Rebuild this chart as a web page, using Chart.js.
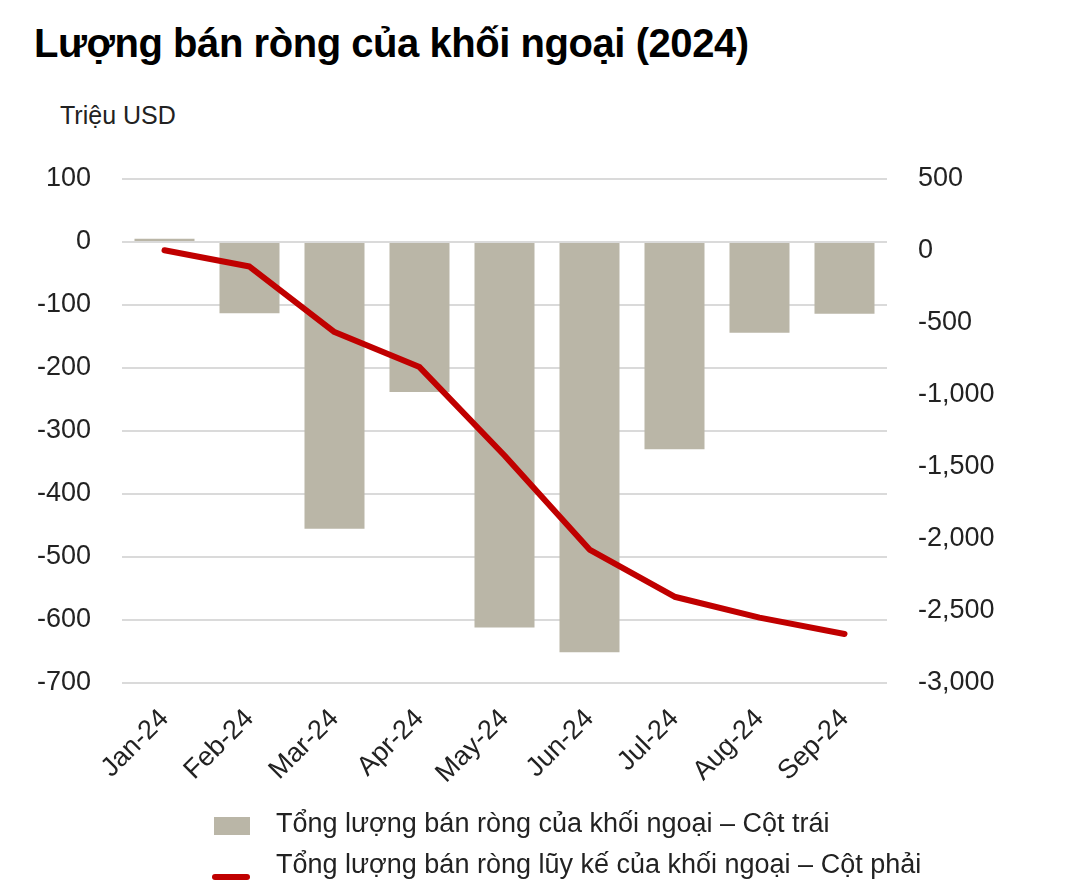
<!DOCTYPE html>
<html>
<head>
<meta charset="utf-8">
<script src="https://cdn.jsdelivr.net/npm/chart.js@4/dist/chart.umd.min.js"></script>
<style>
  html, body { margin: 0; padding: 0; background: #fff; }
  body { width: 1073px; height: 890px; position: relative; overflow: hidden; font-family: "Liberation Sans", Arial, sans-serif; color: #222; }
  #title { position: absolute; left: 34px; top: 21px; font-size: 40px; font-weight: bold; color: #000; white-space: nowrap; letter-spacing: -0.45px; }
  #unit { position: absolute; left: 60px; top: 101px; font-size: 25px; color: #222; white-space: nowrap; }
  canvas { position: absolute; left: 0; top: 0; }
  .leg { position: absolute; left: 212px; font-size: 27px; color: #222; white-space: nowrap; }
  .leg .sw { position: absolute; left: 0; }
  .leg .tx { position: absolute; left: 64px; top: 0; }
</style>
</head>
<body>
<div id="title">Lượng bán ròng của khối ngoại (2024)</div>
<div id="unit">Triệu USD</div>
<canvas id="c" width="1073" height="890"></canvas>
<div class="leg" id="leg1" style="top:808px;"><span class="sw" style="left:2px;top:9px;width:36px;height:18px;background:#bab6a7;"></span><span class="tx">Tổng lượng bán ròng của khối ngoại – Cột trái</span></div>
<div class="leg" id="leg2" style="top:849px;"><span class="sw" style="left:0;top:25px;width:38px;height:6px;background:#c00000;border-radius:3px;"></span><span class="tx">Tổng lượng bán ròng lũy kế của khối ngoại – Cột phải</span></div>
<script>
const categories = ['Jan-24', 'Feb-24', 'Mar-24', 'Apr-24', 'May-24', 'Jun-24', 'Jul-24', 'Aug-24', 'Sep-24'];
const netSales = [5, -113, -455, -238, -612, -651, -329, -144, -114];
const cumulativeNetSales = [5, -108, -563, -806, -1420, -2073, -2401, -2546, -2660];
const seriesNames = ['Tổng lượng bán ròng của khối ngoại – Cột trái', 'Tổng lượng bán ròng lũy kế của khối ngoại – Cột phải'];

const tickFont = { family: '"Liberation Sans", Arial, sans-serif', size: 27 };
new Chart(document.getElementById('c'), {
  data: {
    labels: categories,
    datasets: [
      { type: 'line', label: seriesNames[1], data: cumulativeNetSales, yAxisID: 'y1', borderColor: '#c00000', borderWidth: 6, pointRadius: 0, borderCapStyle: 'round', borderJoinStyle: 'round', tension: 0, order: 0 },
      { type: 'bar', label: seriesNames[0], data: netSales, yAxisID: 'y', backgroundColor: '#bab6a7', barPercentage: 0.706, categoryPercentage: 1, order: 1 }
    ]
  },
  options: {
    responsive: false,
    devicePixelRatio: 1,
    animation: false,
    layout: { padding: { top: 179, left: 0, right: 0, bottom: 87 } },
    plugins: { legend: { display: false }, tooltip: { enabled: false }, title: { display: false } },
    scales: {
      x: {
        grid: { display: false, drawTicks: false },
        border: { display: false },
        ticks: { font: tickFont, color: '#222', minRotation: 45, maxRotation: 45, padding: 20, autoSkip: false },
        afterFit: s => { s.height = 120; }
      },
      y: {
        position: 'left', min: -700, max: 100,
        grid: { color: '#dadada', lineWidth: 2, drawTicks: false },
        border: { display: false },
        ticks: { stepSize: 100, font: tickFont, color: '#222', padding: 31 },
        afterFit: s => { s.width = 122; }
      },
      y1: {
        position: 'right', min: -3000, max: 500,
        grid: { display: false, drawTicks: false },
        border: { display: false },
        ticks: { stepSize: 500, font: tickFont, color: '#222', padding: 31 },
        afterFit: s => { s.width = 186; }
      }
    }
  }
});
</script>
</body>
</html>
